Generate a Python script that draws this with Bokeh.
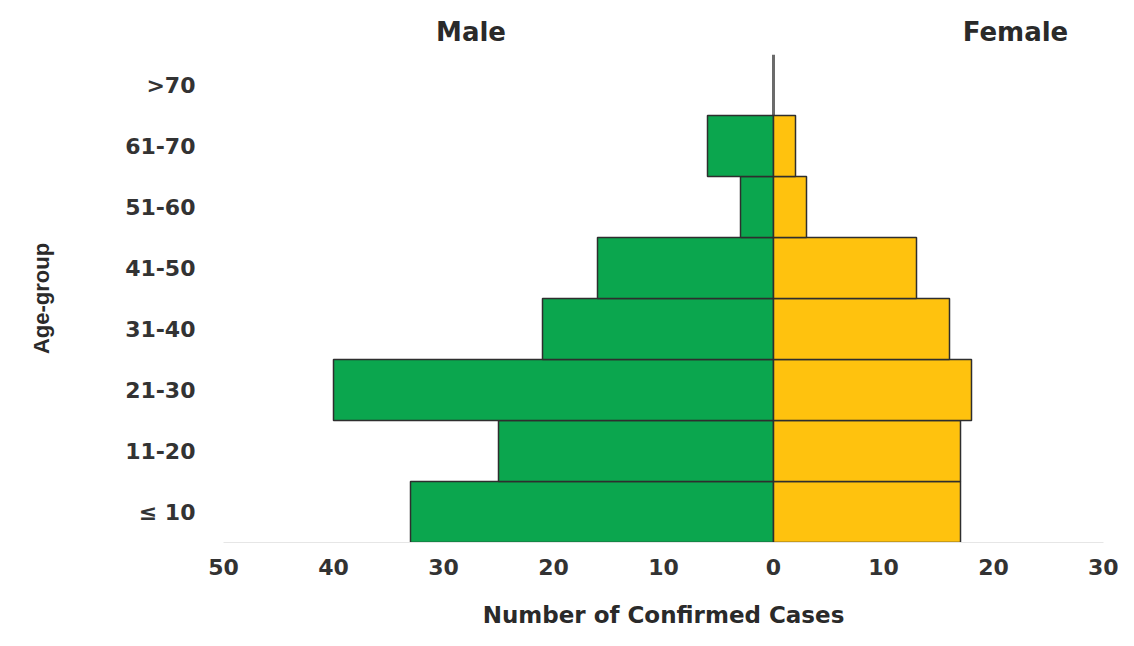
from bokeh.plotting import figure
from bokeh.models import (FactorRange, Range1d, FixedTicker, CustomJSTickFormatter,
                          LinearAxis, Span, ColumnDataSource, CDSView, BooleanFilter)
from bokeh.embed import file_html
from bokeh.resources import INLINE

# ---- data ----
age_groups = ["\u2264 10", "11-20", "21-30", "31-40", "41-50", "51-60", "61-70", ">70"]
male = [33, 25, 40, 21, 16, 3, 6, 0]
female = [17, 17, 18, 16, 13, 3, 2, 0]
x_ticks = [-50, -40, -30, -20, -10, 0, 10, 20, 30]
header_labels = ["Male", "Female"]
header_pos = [-27.5, 22]

FONT = "'DejaVu Sans', sans-serif"
GREEN = "#0BA64E"
ORANGE = "#FFC20E"
OUTLINE = "#2e2e2e"

p = figure(width=1118, height=630, output_backend="svg", toolbar_location=None,
           y_range=FactorRange(factors=age_groups, range_padding=0),
           x_range=Range1d(-50, 30),
           min_border_left=223, min_border_right=15, min_border_top=54, min_border_bottom=88)
p.outline_line_color = None
p.xgrid.visible = False
p.ygrid.visible = False
p.background_fill_color = "white"

zero = Span(location=0, dimension="height", line_color="#6b6b6b", line_width=3, level="underlay")
p.add_layout(zero)

src = ColumnDataSource(dict(age=age_groups,
                            mleft=[-v for v in male], mright=[0] * len(male),
                            fleft=[0] * len(female), fright=female))
mview = CDSView(filter=BooleanFilter([v > 0 for v in male]))
fview = CDSView(filter=BooleanFilter([v > 0 for v in female]))
p.hbar(y="age", left="mleft", right="mright", height=1.0, source=src, view=mview,
       fill_color=GREEN, line_color=OUTLINE, line_width=1.5)
p.hbar(y="age", left="fleft", right="fright", height=1.0, source=src, view=fview,
       fill_color=ORANGE, line_color=OUTLINE, line_width=1.5)

# x axis
xa = p.xaxis[0]
xa.ticker = FixedTicker(ticks=x_ticks)
xa.formatter = CustomJSTickFormatter(code="return Math.abs(tick).toString();")
xa.axis_line_color = "#e6e6e6"
xa.major_tick_line_color = None
xa.minor_tick_line_color = None
xa.major_tick_out = 0
xa.major_label_standoff = 16
xa.major_label_text_font = FONT
xa.major_label_text_font_style = "bold"
xa.major_label_text_font_size = "22px"
xa.major_label_text_color = "#333333"
xa.axis_label = "Number of Confirmed Cases"
xa.axis_label_text_font = FONT
xa.axis_label_text_font_style = "bold"
xa.axis_label_text_font_size = "23px"
xa.axis_label_text_color = "#2a2a2a"
xa.axis_label_standoff = 24

# y axis
ya = p.yaxis[0]
ya.axis_line_color = None
ya.major_tick_line_color = None
ya.minor_tick_line_color = None
ya.major_tick_out = 0
ya.major_label_standoff = 28
ya.major_label_text_font = FONT
ya.major_label_text_font_style = "bold"
ya.major_label_text_font_size = "22px"
ya.major_label_text_color = "#333333"
ya.axis_label = "Age-group"
ya.axis_label_text_font = "'Liberation Sans Narrow', 'Liberation Sans', sans-serif"
ya.axis_label_text_font_style = "bold"
ya.axis_label_text_font_size = "22px"
ya.axis_label_text_color = "#2a2a2a"
ya.axis_label_standoff = 68

# header axis (Male / Female)
top = LinearAxis(ticker=FixedTicker(ticks=header_pos),
                 major_label_overrides={header_pos[i]: header_labels[i] for i in range(2)})
top.axis_line_color = None
top.major_tick_line_color = None
top.minor_tick_line_color = None
top.major_tick_out = 0
top.major_label_standoff = 8
top.major_label_text_font = FONT
top.major_label_text_font_style = "bold"
top.major_label_text_font_size = "26px"
top.major_label_text_color = "#2a2a2a"
p.add_layout(top, "above")

open("out.html", "w").write(file_html(p, INLINE))
